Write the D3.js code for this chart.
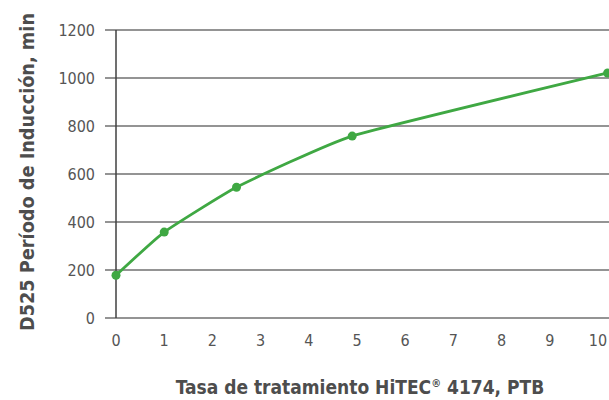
<!DOCTYPE html>
<html>
<head>
<meta charset="utf-8">
<script src="https://cdn.jsdelivr.net/npm/d3@7"></script>
<style>
  body { margin: 0; background: #fff; }
  text { font-family: "DejaVu Sans Condensed", "DejaVu Sans", sans-serif; font-stretch: condensed; }
</style>
</head>
<body>
<script>
// data
var treatRate = [0, 1, 2.5, 4.9, 10.2]
var inductionMin = [178, 358, 545, 758, 1021]
var xTicks = [0, 1, 2, 3, 4, 5, 6, 7, 8, 9, 10]
var yTicks = [0, 200, 400, 600, 800, 1000, 1200]

var width = 609, height = 400
var green = "#3fa843"

var svg = d3.select("body").append("svg")
            .attr("width", width)
            .attr("height", height)

var x = d3.scaleLinear().domain([0, 10]).range([116, 598])
var y = d3.scaleLinear().domain([0, 1200]).range([318, 30])

// horizontal grid lines
svg.selectAll(".grid")
   .data(yTicks)
   .enter().append("line")
   .attr("x1", 105)
   .attr("x2", width)
   .attr("y1", d => y(d))
   .attr("y2", d => y(d))
   .style("stroke", "#707070")
   .style("stroke-width", 1.5)

// vertical axis line
svg.append("line")
   .attr("x1", x(0)).attr("x2", x(0))
   .attr("y1", y(1200)).attr("y2", y(0))
   .style("stroke", "#404040")
   .style("stroke-width", 1.5)

// tick labels
svg.selectAll(".ylab")
   .data(yTicks)
   .enter().append("text")
   .attr("x", 95)
   .attr("y", d => y(d) + 6)
   .attr("text-anchor", "end")
   .style("font-size", "16px")
   .style("fill", "#555")
   .text(d => d)

svg.selectAll(".xlab")
   .data(xTicks)
   .enter().append("text")
   .attr("x", d => x(d))
   .attr("y", 346)
   .attr("text-anchor", "middle")
   .style("font-size", "16px")
   .style("fill", "#555")
   .text(d => d)

// series
var pts = treatRate.map((t, i) => [t, inductionMin[i]])

var line = d3.line()
             .x(d => x(d[0]))
             .y(d => y(d[1]))
             .curve(d3.curveCardinal.tension(0.6))

svg.append("path")
   .datum(pts)
   .attr("d", line)
   .style("fill", "none")
   .style("stroke", green)
   .style("stroke-width", 2.8)

svg.selectAll(".pt")
   .data(pts)
   .enter().append("circle")
   .attr("cx", d => x(d[0]))
   .attr("cy", d => y(d[1]))
   .attr("r", 4.5)
   .style("fill", green)

// axis titles
svg.append("text")
   .attr("transform", "translate(34,172) rotate(-90)")
   .attr("text-anchor", "middle")
   .attr("textLength", 318)
   .attr("lengthAdjust", "spacingAndGlyphs")
   .style("font-size", "20px")
   .style("font-weight", "bold")
   .style("fill", "#4d4d4d")
   .text("D525 Período de Inducción, min")

var xTitle = svg.append("text")
   .attr("x", 360)
   .attr("y", 394)
   .attr("text-anchor", "middle")
   .style("font-size", "19px")
   .style("font-weight", "bold")
   .style("fill", "#4d4d4d")
xTitle.append("tspan").text("Tasa de tratamiento HiTEC")
xTitle.append("tspan").attr("dy", -7).style("font-size", "11px").text("®")
xTitle.append("tspan").attr("dy", 7).text(" 4174, PTB")
</script>
</body>
</html>
